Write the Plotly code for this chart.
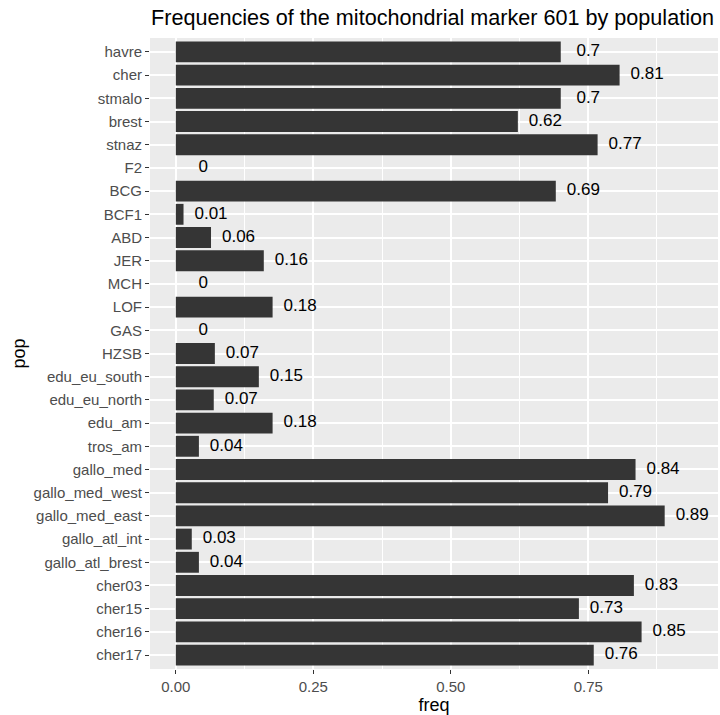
import plotly.graph_objects as go

pops = ["havre", "cher", "stmalo", "brest", "stnaz", "F2", "BCG", "BCF1", "ABD",
        "JER", "MCH", "LOF", "GAS", "HZSB", "edu_eu_south", "edu_eu_north",
        "edu_am", "tros_am", "gallo_med", "gallo_med_west", "gallo_med_east",
        "gallo_atl_int", "gallo_atl_brest", "cher03", "cher15", "cher16", "cher17"]
freq = [0.700, 0.807, 0.700, 0.622, 0.767, 0.0, 0.691, 0.014, 0.064,
        0.160, 0.0, 0.176, 0.0, 0.071, 0.151, 0.069,
        0.176, 0.042, 0.836, 0.786, 0.889,
        0.029, 0.042, 0.833, 0.733, 0.847, 0.760]
labels = [f"{round(v, 2):g}" for v in freq]
x_ticks = [0.0, 0.25, 0.50, 0.75]
x_minor = [0.125, 0.375, 0.625, 0.875]

nudge = 0.05
text_x = [v + nudge for v in freq]
hi = max(text_x)
pad = 0.05 * hi
xrange = [-pad, hi + pad]

FONT = "Liberation Sans, Arial, Helvetica, sans-serif"

fig = go.Figure()
fig.add_trace(go.Bar(
    y=pops, x=freq, orientation="h", width=0.9,
    marker=dict(color="#353535", line=dict(width=0)),
    showlegend=False, hoverinfo="x+y",
))
fig.add_trace(go.Scatter(
    y=pops, x=text_x, mode="text", text=labels,
    textposition="middle center",
    textfont=dict(family=FONT, size=17, color="black"),
    showlegend=False, hoverinfo="skip",
))

fig.update_layout(
    width=720, height=715,
    margin=dict(l=150, r=2, t=38, b=46, autoexpand=False),
    paper_bgcolor="white",
    plot_bgcolor="#EBEBEB",
    bargap=0.1,
    font=dict(family=FONT),
    title=dict(
        text="Frequencies of the mitochondrial marker 601 by population",
        font=dict(family=FONT, size=21.6, color="black"),
        x=151 / 720, xanchor="left", xref="container",
        y=1 - 17 / 715, yanchor="middle", yref="container",
    ),
    xaxis=dict(
        range=xrange,
        tickvals=x_ticks,
        ticktext=[f"{t:.2f}" for t in x_ticks],
        showgrid=True, gridcolor="white", gridwidth=2,
        minor=dict(tickvals=x_minor, showgrid=True, gridcolor="white",
                   gridwidth=1, ticks=""),
        zeroline=False, showline=False,
        ticks="outside", ticklen=4, tickwidth=1, tickcolor="#333333",
        tickfont=dict(family=FONT, size=15, color="#4D4D4D"),
        title=dict(text="freq", font=dict(family=FONT, size=18, color="black"),
                   standoff=4),
        automargin=False,
    ),
    yaxis=dict(
        categoryorder="array", categoryarray=pops,
        range=[len(pops) - 0.4, -0.6],
        showgrid=True, gridcolor="white", gridwidth=2,
        zeroline=False, showline=False,
        ticks="outside", ticklen=4, tickwidth=1, tickcolor="#333333",
        tickfont=dict(family=FONT, size=15, color="#4D4D4D"),
        title=dict(text="pop", font=dict(family=FONT, size=18, color="black"),
                   standoff=3),
        automargin=False,
    ),
)

fig.write_html("out.html",
               config={"displayModeBar": False},
               post_script="document.body.style.margin='0';document.body.style.overflow='hidden';")
